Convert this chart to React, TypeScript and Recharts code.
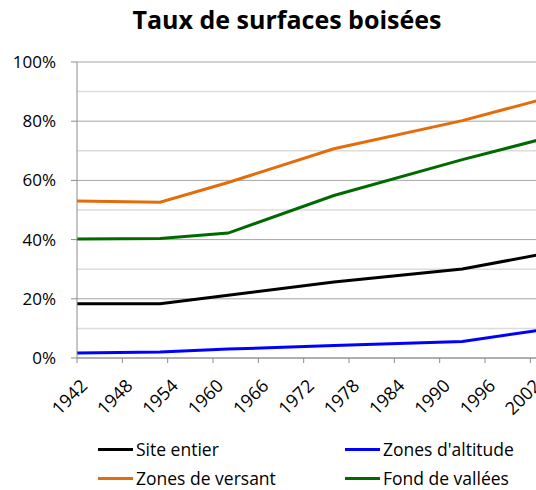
import { LineChart, Line, XAxis, YAxis, CartesianGrid, ReferenceLine } from "recharts";

const years = [1942, 1953, 1962, 1976, 1993, 2003];
const siteEntier = [18.3, 18.3, 21.2, 25.7, 30.1, 34.8];
const zonesAltitude = [1.7, 2.0, 3.0, 4.2, 5.6, 9.3];
const zonesVersant = [53.0, 52.6, 59.3, 70.7, 80.2, 87.0];
const fondVallees = [40.2, 40.4, 42.2, 54.9, 67.0, 73.6];

const xTicks = [1942, 1948, 1954, 1960, 1966, 1972, 1978, 1984, 1990, 1996, 2002];
const yTicks = [0, 20, 40, 60, 80, 100];
const yMinor = [10, 30, 50, 70, 90];

const series = [
  { key: "site", name: "Site entier", color: "#000000" },
  { key: "altitude", name: "Zones d'altitude", color: "#0000ff" },
  { key: "versant", name: "Zones de versant", color: "#e46c0a" },
  { key: "vallees", name: "Fond de vallées", color: "#006a00" },
];

const data = years.map((y, i) => ({
  year: y,
  site: siteEntier[i],
  altitude: zonesAltitude[i],
  versant: zonesVersant[i],
  vallees: fondVallees[i],
}));

const font = "'Open Sans', sans-serif";

function YearTick({ x, y, payload }: any) {
  return (
    <g transform={`translate(${x + 11.5},${y + 24})`}>
      <text transform="rotate(-45)" textAnchor="end" fontSize={18} fontFamily={font} fill="#000">
        {payload.value}
      </text>
    </g>
  );
}

export default function App() {
  return (
    <div style={{ position: "fixed", left: 0, top: 0, width: 536, height: 490, overflow: "hidden", background: "#fff" }}>
      <div
        style={{
          position: "absolute",
          left: 0,
          top: 2,
          width: 574,
          textAlign: "center",
          fontFamily: font,
          fontWeight: 700,
          fontSize: 25,
          color: "#000",
        }}
      >
        Taux de surfaces boisées
      </div>
      <LineChart width={561} height={490} data={data} margin={{ top: 62, right: 8, bottom: 0, left: 0 }}>
        <CartesianGrid horizontal vertical={false} stroke="#a6a6a6" />
        {yMinor.map((v) => (
          <ReferenceLine key={v} y={v} stroke="#dcdcdc" strokeWidth={1.5} />
        ))}
        <XAxis
          dataKey="year"
          type="number"
          domain={[1942, 2005]}
          ticks={xTicks}
          interval={0}
          height={132}
          tickSize={5}
          tickMargin={0}
          stroke="#8c8c8c"
          tick={<YearTick />}
        />
        <YAxis
          domain={[0, 100]}
          ticks={yTicks}
          width={77}
          tickSize={6}
          tickMargin={15}
          stroke="#8c8c8c"
          tickFormatter={(v) => `${v}%`}
          tick={{ fontSize: 17, fontFamily: font, fill: "#000" }}
        />
        {series.map((s) => (
          <Line
            key={s.key}
            type="linear"
            dataKey={s.key}
            stroke={s.color}
            strokeWidth={3}
            dot={false}
            isAnimationActive={false}
          />
        ))}
      </LineChart>
      {series.map((s, i) => (
        <div
          key={s.key}
          style={{
            position: "absolute",
            left: i % 2 === 0 ? 98 : 345,
            top: i < 2 ? 440 : 469,
            display: "flex",
            alignItems: "center",
            fontFamily: font,
            fontSize: 17.5,
            lineHeight: "18px",
            color: "#000",
            height: 18,
          }}
        >
          <span style={{ display: "inline-block", width: 35, height: 3, background: s.color, marginRight: 3 }} />
          <span>{s.name}</span>
        </div>
      ))}
    </div>
  );
}
